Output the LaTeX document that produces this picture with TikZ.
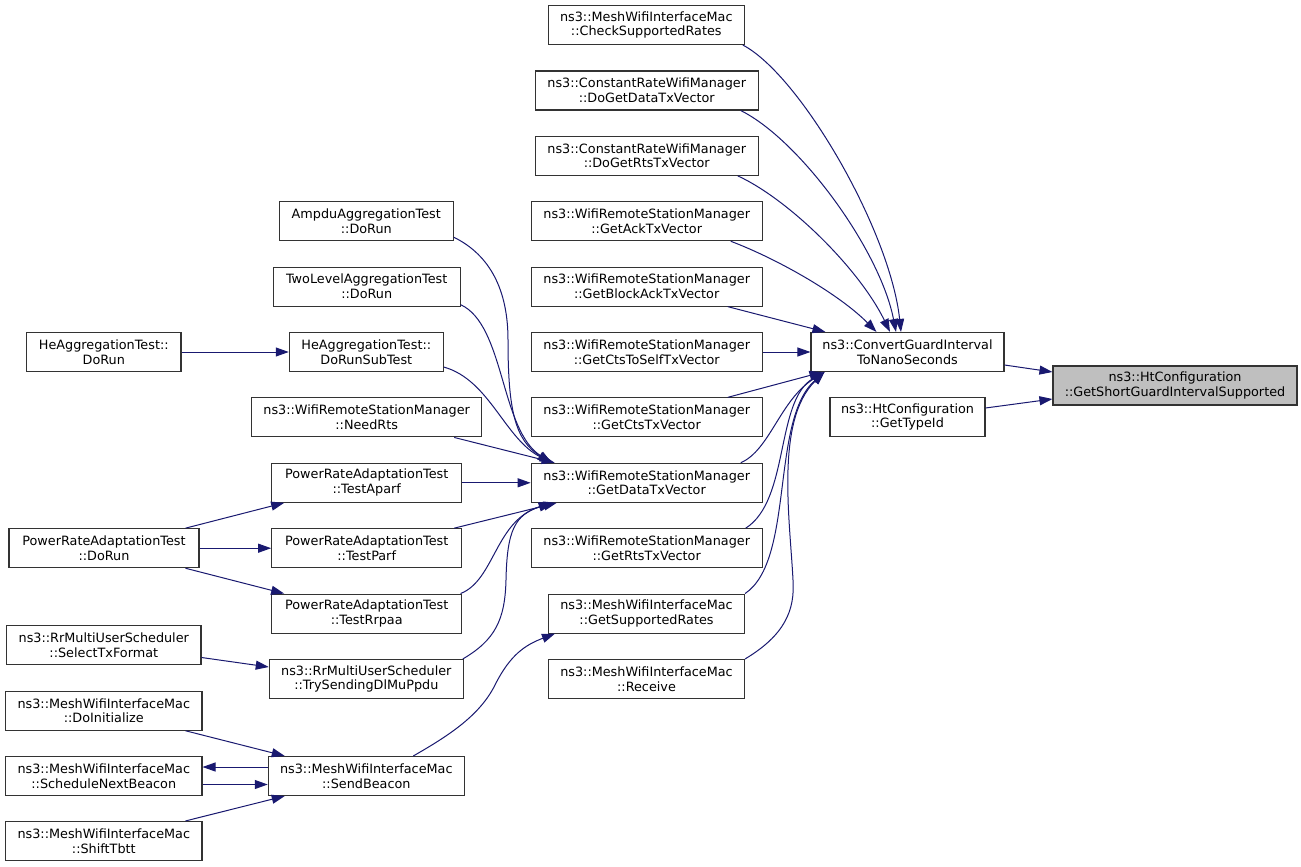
\documentclass[tikz,border=0pt]{standalone}
\usepackage{fontspec}
\setmainfont{DejaVu Sans}
\usetikzlibrary{arrows.meta}
\definecolor{edgeblue}{HTML}{191970}
\definecolor{boxline}{HTML}{333333}
\begin{document}
\begin{tikzpicture}[x=1pt,y=-1pt,
  box/.style={draw=boxline,line width=1.1pt,fill=white,inner sep=0pt,minimum height=39pt,align=center,font=\fontsize{12.8}{14.8}\selectfont},
  hl/.style={box,fill=black!25},
  call/.style={draw=edgeblue,line width=1pt,-{Triangle[length=13pt,width=9pt]}}]
\useasboundingbox[fill=white] (0,0) rectangle (1301,867);
% nodes
\node[hl,minimum width=244pt] (gsg) at (1175,385.5) {ns3::HtConfiguration\\::GetShortGuardIntervalSupported};
\node[box,minimum width=193pt] (conv) at (907.5,352) {ns3::ConvertGuardInterval\\ToNanoSeconds};
\node[box,minimum width=155pt] (gti) at (907.5,417) {ns3::HtConfiguration\\::GetTypeId};
\node[box,minimum width=196pt] (csr) at (646.3,25) {ns3::MeshWifiInterfaceMac\\::CheckSupportedRates};
\node[box,minimum width=223pt] (dgd) at (646.7,90.5) {ns3::ConstantRateWifiManager\\::DoGetDataTxVector};
\node[box,minimum width=223pt] (dgr) at (646.7,155.8) {ns3::ConstantRateWifiManager\\::DoGetRtsTxVector};
\node[box,minimum width=231pt] (gack) at (646.7,221.2) {ns3::WifiRemoteStationManager\\::GetAckTxVector};
\node[box,minimum width=231pt] (gba) at (646.7,286.6) {ns3::WifiRemoteStationManager\\::GetBlockAckTxVector};
\node[box,minimum width=231pt] (gcs) at (646.7,352) {ns3::WifiRemoteStationManager\\::GetCtsToSelfTxVector};
\node[box,minimum width=231pt] (gcts) at (646.7,417.4) {ns3::WifiRemoteStationManager\\::GetCtsTxVector};
\node[box,minimum width=231pt] (gdt) at (646.7,482.8) {ns3::WifiRemoteStationManager\\::GetDataTxVector};
\node[box,minimum width=231pt] (grts) at (646.7,548.2) {ns3::WifiRemoteStationManager\\::GetRtsTxVector};
\node[box,minimum width=196pt] (gsr) at (646.5,613.6) {ns3::MeshWifiInterfaceMac\\::GetSupportedRates};
\node[box,minimum width=196pt] (rcv) at (646.5,679) {ns3::MeshWifiInterfaceMac\\::Receive};
\node[box,minimum width=174pt] (ampdu) at (366.3,221.2) {AmpduAggregationTest\\::DoRun};
\node[box,minimum width=186.7pt] (two) at (366.7,286.6) {TwoLevelAggregationTest\\::DoRun};
\node[box,minimum width=154pt] (drst) at (366.3,352) {HeAggregationTest::\\DoRunSubTest};
\node[box,minimum width=154.3pt] (hedr) at (103.8,352) {HeAggregationTest::\\DoRun};
\node[box,minimum width=230pt] (need) at (366.7,417.4) {ns3::WifiRemoteStationManager\\::NeedRts};
\node[box,minimum width=190pt] (aparf) at (366.7,482.8) {PowerRateAdaptationTest\\::TestAparf};
\node[box,minimum width=190pt] (parf) at (366.7,548.2) {PowerRateAdaptationTest\\::TestParf};
\node[box,minimum width=190pt] (rrpaa) at (366.7,613.6) {PowerRateAdaptationTest\\::TestRrpaa};
\node[box,minimum width=190pt] (prdr) at (104,548.2) {PowerRateAdaptationTest\\::DoRun};
\node[box,minimum width=194.3pt] (sel) at (103.8,645) {ns3::RrMultiUserScheduler\\::SelectTxFormat};
\node[box,minimum width=194pt] (tsd) at (366.3,679) {ns3::RrMultiUserScheduler\\::TrySendingDlMuPpdu};
\node[box,minimum width=196.3pt] (dini) at (103.8,710.7) {ns3::MeshWifiInterfaceMac\\::DoInitialize};
\node[box,minimum width=196.3pt] (snb) at (103.8,776) {ns3::MeshWifiInterfaceMac\\::ScheduleNextBeacon};
\node[box,minimum width=196.3pt] (stb) at (103.8,841) {ns3::MeshWifiInterfaceMac\\::ShiftTbtt};
\node[box,minimum width=196pt] (sbc) at (366.3,776) {ns3::MeshWifiInterfaceMac\\::SendBeacon};
% edges into GetShortGuardIntervalSupported
\draw[call] ([yshift=-13]conv.east) -- ([yshift=13.5]gsg.west);
\draw[call] ([yshift=9]gti.east) -- ([yshift=-13.5]gsg.west);
% edges into ConvertGuardInterval
\draw[call] ([xshift=-2]csr.south east) .. controls (800,75) and (890,230) .. ([xshift=-6.5]conv.north);
\draw[call] ([xshift=-18]dgd.south east) .. controls (800,140) and (880,250) .. ([xshift=-11.5]conv.north);
\draw[call] ([xshift=-21]dgr.south east) .. controls (790,200) and (860,270) .. ([xshift=-17.5]conv.north);
\draw[call] ([xshift=-32]gack.south east) .. controls (780,260) and (840,295) .. ([xshift=-31]conv.north);
\draw[call] ([xshift=-35]gba.south east) -- ([xshift=15]conv.north west);
\draw[call] (gcs.east) -- (conv.west);
\draw[call] ([xshift=-35]gcts.north east) -- ([xshift=12]conv.south west);
\draw[call] ([xshift=-22]gdt.north east) .. controls (770,450) and (780,400) .. ([xshift=14]conv.south west);
\draw[call] ([xshift=-17]grts.north east) .. controls (790,500) and (775,400) .. ([xshift=14]conv.south west);
\draw[call] (gsr.north east) .. controls (795,560) and (770,420) .. ([xshift=14]conv.south west);
\draw[call] (rcv.north east) .. controls (785,635) and (795,610) .. (793,580) .. controls (790,520) and (775,420) .. ([xshift=14]conv.south west);
% edges into GetDataTxVector
\draw[call] ([yshift=4]ampdu.south east) .. controls (490,255) and (508,290) .. (508,340) .. controls (508,410) and (515,440) .. ([xshift=20]gdt.north west);
\draw[call] ([yshift=2]two.south east) .. controls (505,325) and (500,430) .. ([xshift=21]gdt.north west);
\draw[call] ([yshift=5]drst.south east) .. controls (490,380) and (505,440) .. ([xshift=22]gdt.north west);
\draw[call] ([xshift=-28]need.south east) -- ([xshift=24]gdt.north west);
\draw[call] (aparf.east) -- (gdt.west);
\draw[call] ([xshift=-8]parf.north east) -- ([xshift=26]gdt.south west);
\draw[call] ([xshift=-1.7]rrpaa.north east) .. controls (495,580) and (495,520) .. ([xshift=22]gdt.south west);
\draw[call] ([xshift=-1]tsd.north east) .. controls (495,640) and (505,620) .. (506,580) .. controls (507,530) and (515,515) .. ([xshift=21]gdt.south west);
% left side edges
\draw[call] (hedr.east) -- (drst.west);
\draw[call] ([xshift=-14]prdr.north east) -- ([xshift=13]aparf.south west);
\draw[call] (prdr.east) -- (parf.west);
\draw[call] ([xshift=-14]prdr.south east) -- ([xshift=13]rrpaa.north west);
\draw[call] ([yshift=-12.5]sel.east) -- ([yshift=12]tsd.west);
\draw[call] ([xshift=-17]dini.south east) -- ([xshift=17]sbc.north west);
\draw[call] ([yshift=9]sbc.west) -- ([yshift=9]snb.east);
\draw[call] ([yshift=-8.5]snb.east) -- ([yshift=-8.5]sbc.west);
\draw[call] ([xshift=-17]stb.north east) -- ([xshift=17]sbc.south west);
\draw[call] ([xshift=47]sbc.north) .. controls (450,735) and (480,715) .. (495,685) .. controls (510,655) and (525,645) .. ([xshift=7]gsr.south west);
\end{tikzpicture}
\end{document}
